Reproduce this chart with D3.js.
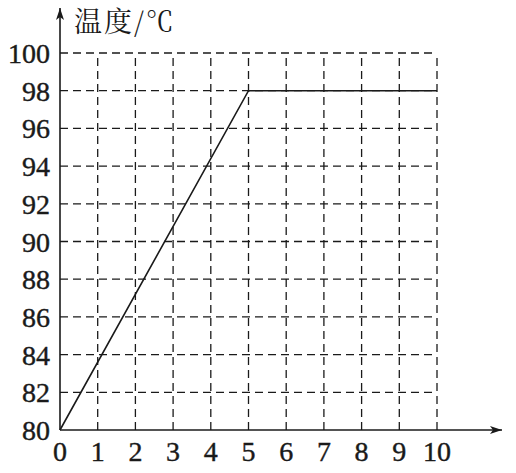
<!DOCTYPE html>
<html>
<head>
<meta charset="utf-8">
<script src="https://cdn.jsdelivr.net/npm/d3@7"></script>
<style>
  body { margin: 0; background: #fff; }
  svg { display: block; }
</style>
</head>
<body>
<svg id="chart" width="516" height="473"></svg>
<script>
const xTicks = [0, 1, 2, 3, 4, 5, 6, 7, 8, 9, 10];
const yTicks = [80, 82, 84, 86, 88, 90, 92, 94, 96, 98, 100];
const timeVals = [0, 5, 10];
const tempVals = [80, 98, 98];
const yTitle = "温度/℃";

const svg = d3.select("#chart");
const ink = "#1a1a1a";

const x = d3.scaleLinear().domain([0, 10]).range([60, 437]);
const y = d3.scaleLinear().domain([80, 100]).range([430, 53]);

// dashed grid
svg.append("g")
  .selectAll("line")
  .data(yTicks.slice(1))
  .join("line")
  .attr("x1", x(0)).attr("x2", x(10))
  .attr("y1", d => y(d)).attr("y2", d => y(d))
  .attr("stroke", ink).attr("stroke-width", 1.3)
  .attr("stroke-dasharray", "8,5");

svg.append("g")
  .selectAll("line")
  .data(xTicks.slice(1))
  .join("line")
  .attr("x1", d => x(d)).attr("x2", d => x(d))
  .attr("y1", y(80)).attr("y2", y(100))
  .attr("stroke", ink).attr("stroke-width", 1.3)
  .attr("stroke-dasharray", "8,5");

// axes with arrows
svg.append("defs").append("marker")
  .attr("id", "arrow")
  .attr("viewBox", "0 0 12 8")
  .attr("refX", 12).attr("refY", 4)
  .attr("markerWidth", 12).attr("markerHeight", 8)
  .attr("markerUnits", "userSpaceOnUse")
  .attr("orient", "auto")
  .append("path")
  .attr("d", "M0,0 L12,4 L0,8 L3,4 Z")
  .attr("fill", ink);

svg.append("line")
  .attr("x1", x(0)).attr("y1", y(80))
  .attr("x2", 502).attr("y2", y(80))
  .attr("stroke", ink).attr("stroke-width", 1.6)
  .attr("marker-end", "url(#arrow)");

svg.append("line")
  .attr("x1", x(0)).attr("y1", y(80))
  .attr("x2", x(0)).attr("y2", 8)
  .attr("stroke", ink).attr("stroke-width", 1.6)
  .attr("marker-end", "url(#arrow)");

// tick labels (printed look: a thin stroke thickens the serif digits)
svg.append("g")
  .selectAll("text")
  .data(yTicks)
  .join("text")
  .attr("x", 50)
  .attr("y", d => y(d) + 10)
  .attr("text-anchor", "end")
  .style("font-family", '"Liberation Serif"')
  .style("font-size", "28px")
  .attr("fill", ink)
  .attr("stroke", ink).attr("stroke-width", 0.4)
  .text(d => d);

svg.append("g")
  .selectAll("text")
  .data(xTicks)
  .join("text")
  .attr("x", d => x(d))
  .attr("y", 461)
  .attr("text-anchor", "middle")
  .style("font-family", '"Liberation Serif"')
  .style("font-size", "28px")
  .attr("fill", ink)
  .attr("stroke", ink).attr("stroke-width", 0.4)
  .text(d => d);

svg.append("text")
  .attr("x", 74)
  .attr("y", 32)
  .style("font-family", '"Noto Serif CJK SC"')
  .style("font-size", "28px")
  .style("letter-spacing", "2px")
  .attr("fill", ink)
  .text(yTitle);

// data line
const line = d3.line().x((d, i) => x(timeVals[i])).y(d => y(d));
svg.append("path")
  .datum(tempVals)
  .attr("d", line)
  .attr("fill", "none")
  .attr("stroke", ink)
  .attr("stroke-width", 1.6);
</script>
</body>
</html>
